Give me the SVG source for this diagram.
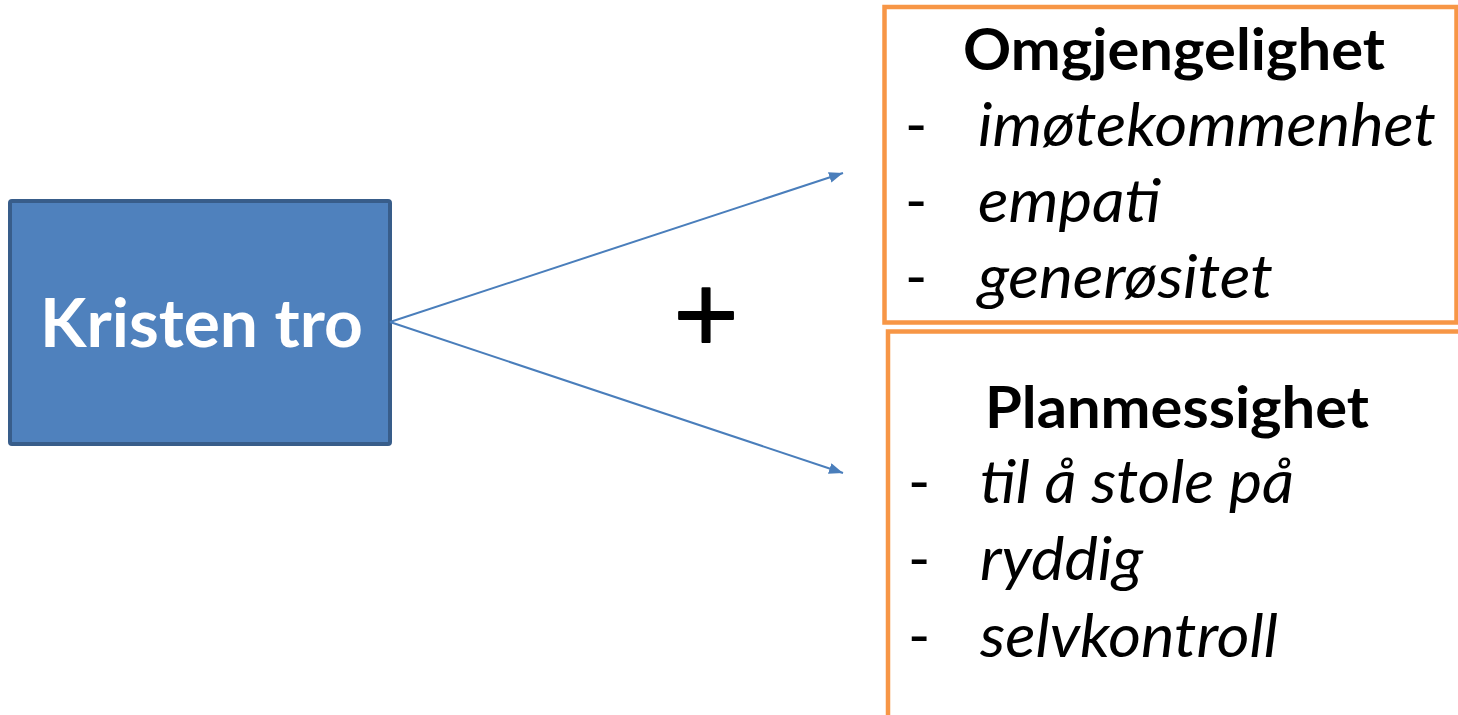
<svg xmlns="http://www.w3.org/2000/svg" width="1458" height="715" viewBox="0 0 1458 715">
<style>
.bold{font-family:Lato,"Open Sans","Liberation Sans",sans-serif;font-weight:bold;}
.item{font-family:Lato,"Open Sans","Liberation Sans",sans-serif;font-style:italic;font-size:60px;fill:#000;}
.dash{font-family:Lato,"Open Sans","Liberation Sans",sans-serif;font-size:60px;fill:#000;}
.obox{fill:#fff;stroke:#F79646;stroke-width:4.5;}
.conn{stroke:#4A7EBB;stroke-width:2;fill:none;marker-end:url(#arr);}
</style>
<defs>
<marker id="arr" viewBox="0 0 14 11" refX="14" refY="5.5" markerWidth="14" markerHeight="11" markerUnits="userSpaceOnUse" orient="auto">
<path d="M0,0 L14,5.5 L0,11 z" fill="#4A7EBB"/>
</marker>
</defs>
<rect width="1458" height="715" fill="#fff"/>
<g id="kristen-tro">
<rect x="10" y="201" width="380" height="243" rx="2" fill="#4F81BD" stroke="#385D8A" stroke-width="4"/>
<text class="bold" x="40" y="347" font-size="66" fill="#fff" textLength="323" lengthAdjust="spacingAndGlyphs">Kristen tro</text>
</g>
<g id="connectors">
<line class="conn" x1="390" y1="322" x2="843" y2="173"/>
<line class="conn" x1="390" y1="322" x2="843" y2="473"/>
</g>
<g id="plus">
<text x="706" y="342" font-family="DejaVu Sans,sans-serif" font-size="86" text-anchor="middle" fill="#000" stroke="#000" stroke-width="2" stroke-linejoin="round">+</text>
</g>
<g id="omgjengelighet">
<rect class="obox" x="884.5" y="7" width="572" height="315.5"/>
<text class="bold" x="963" y="70" font-size="58" fill="#000" textLength="422" lengthAdjust="spacingAndGlyphs">Omgjengelighet</text>
<text class="dash" x="905" y="146">-</text>
<text class="item" x="978" y="146" textLength="458" lengthAdjust="spacingAndGlyphs">imøtekommenhet</text>
<text class="dash" x="905" y="222">-</text>
<text class="item" x="978" y="222" textLength="183" lengthAdjust="spacingAndGlyphs">empati</text>
<text class="dash" x="905" y="298">-</text>
<text class="item" x="978" y="298" textLength="295" lengthAdjust="spacingAndGlyphs">generøsitet</text>
</g>
<g id="planmessighet">
<rect class="obox" x="888" y="331.5" width="600" height="500"/>
<text class="bold" x="985" y="428" font-size="58" fill="#000" textLength="384" lengthAdjust="spacingAndGlyphs">Planmessighet</text>
<text class="dash" x="908" y="503">-</text>
<text class="item" x="980" y="503" textLength="314" lengthAdjust="spacingAndGlyphs">til å stole på</text>
<text class="dash" x="908" y="580">-</text>
<text class="item" x="980" y="580" textLength="163" lengthAdjust="spacingAndGlyphs">ryddig</text>
<text class="dash" x="908" y="657">-</text>
<text class="item" x="980" y="657" textLength="298" lengthAdjust="spacingAndGlyphs">selvkontroll</text>
</g>
</svg>
